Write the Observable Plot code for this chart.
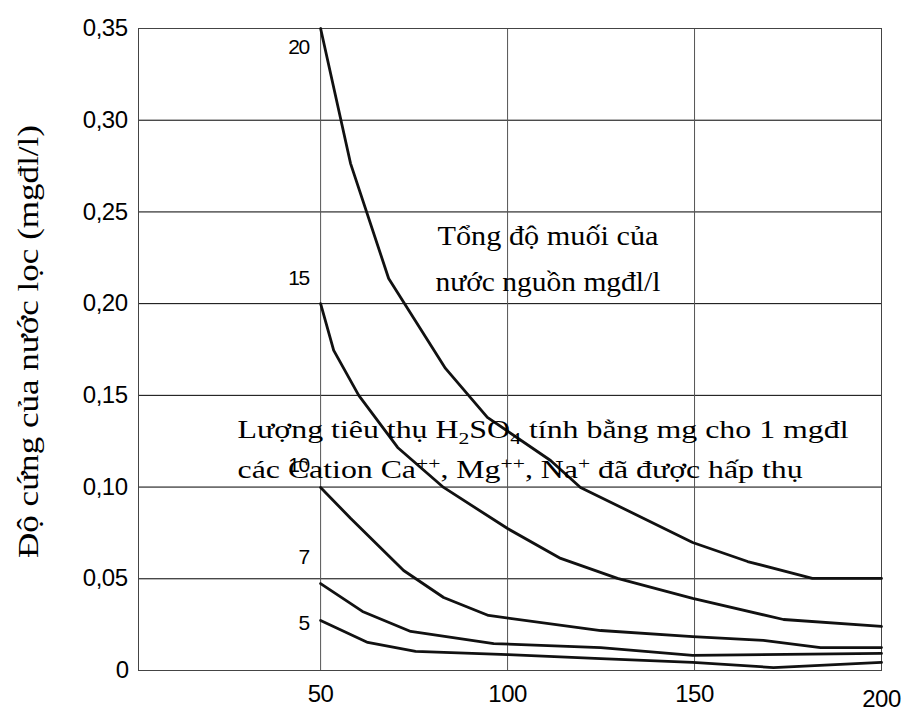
<!DOCTYPE html>
<html><head><meta charset="utf-8">
<script src="https://cdn.jsdelivr.net/npm/d3@7"></script>
<script src="https://cdn.jsdelivr.net/npm/@observablehq/plot@0.6"></script>
<style>
html,body{margin:0;padding:0;background:#fff;}
</style></head><body><div id="chart"></div>
<script>
// ---- data ----
const seriesNames = ["20", "15", "10", "7", "5"];
const x20 = [50, 58, 68.2, 83.4, 94.6, 111.5, 119.5, 149.5, 164.2, 181.5, 200];
const y20 = [0.35, 0.2765, 0.2137, 0.1647, 0.138, 0.1145, 0.0998, 0.0698, 0.0594, 0.0502, 0.0502];
const x15 = [50, 53.5, 60.2, 70.6, 82.9, 100, 114.2, 129.4, 149.5, 173.8, 200];
const y15 = [0.200, 0.1745, 0.150, 0.1216, 0.0998, 0.0774, 0.0611, 0.0502, 0.0393, 0.0278, 0.024];
const x10 = [50, 58, 72.2, 82.9, 94.9, 124.9, 149.5, 168.4, 183.7, 200];
const y10 = [0.0998, 0.083, 0.0545, 0.0398, 0.030, 0.0218, 0.0185, 0.0164, 0.0125, 0.0125];
const x7 = [50, 61.2, 74.1, 96.3, 124.9, 149.5, 200];
const y7 = [0.0474, 0.0322, 0.0213, 0.0147, 0.0125, 0.0082, 0.0093];
const x5 = [50, 62.6, 75.4, 100, 124.9, 149.5, 171.1, 200];
const y5 = [0.0273, 0.0153, 0.0104, 0.0087, 0.0065, 0.0044, 0.0016, 0.0044];
const labelY = [0.340, 0.2137, 0.1118, 0.0616, 0.0256];
const xTicks = [50, 100, 150, 200];
const yTicks = [0, 0.05, 0.10, 0.15, 0.20, 0.25, 0.30, 0.35];
const yTitle = "Độ cứng của nước lọc (mgđl/l)";
const note1 = ["Tổng độ muối của", "nước nguồn mgđl/l"];
const note2 = ["Lượng tiêu thụ H{_2}SO{_4} tính bằng mg cho 1 mgđl",
               "các Cation Ca{^++}, Mg{^++}, Na{^+} đã được hấp thụ"];

// ---- build table ----
const xs = [x20, x15, x10, x7, x5], ys = [y20, y15, y10, y7, y5];
const table = seriesNames.flatMap((s, i) => xs[i].map((x, j) => ({series: s, x, y: ys[i][j]})));
const labels = seriesNames.map((s, i) => ({series: s, x: xs[i][0], y: labelY[i]}));

const SANS = "'Liberation Sans', Arial, sans-serif";
const SERIF = "'Liberation Serif', 'Times New Roman', serif";
const fmt = d => d === 0 ? "0" : d.toFixed(2).replace(".", ",");

const chart = Plot.plot({
  width: 902, height: 716,
  marginLeft: 138, marginRight: 21, marginTop: 28, marginBottom: 46,
  x: {domain: [1.3, 200]},
  y: {domain: [0, 0.35]},
  style: {fontFamily: SANS, background: "#fff", color: "#000"},
  marks: [
    Plot.gridY(yTicks.filter(d => d > 0), {stroke: "#000", strokeOpacity: 1, strokeWidth: 1}),
    Plot.gridX(xTicks, {stroke: "#555", strokeOpacity: 1, strokeWidth: 1}),
    Plot.frame({stroke: "#444", strokeWidth: 1}),
    Plot.axisY(yTicks, {tickSize: 0, tickPadding: 11, tickFormat: fmt, fontSize: 24, label: null, fontFamily: SANS}),
    Plot.axisX(xTicks.slice(0, 3), {tickSize: 0, tickPadding: 14, fontSize: 24, label: null, fontFamily: SANS}),
    Plot.axisX(xTicks.slice(3), {tickSize: 0, tickPadding: 19, fontSize: 24, label: null, fontFamily: SANS}),
    Plot.line(table, {x: "x", y: "y", z: "series", stroke: "#111", strokeWidth: 2.8, strokeLinejoin: "round"}),
    Plot.text(labels, {x: "x", y: "y", text: "series", textAnchor: "end", dx: -12, fontSize: 21, fontFamily: SANS, fill: "#000"}),
    Plot.text([yTitle], {frameAnchor: "left", textAnchor: "middle", rotate: -90, dx: -110, dy: -8, fontSize: 30, fontFamily: SERIF, fill: "#000"}),
    Plot.text(note1, {x: [110.8, 110.8], y: [0.2317, 0.2067], text: d => d, textAnchor: "middle", lineAnchor: "bottom", fontSize: 27, fontFamily: SERIF, fill: "#000"}),
    Plot.text(note2, {x: [27.8, 27.8], y: [0.127, 0.1052], text: d => d, textAnchor: "start", lineAnchor: "bottom", fontSize: 25, fontFamily: SERIF, fill: "#000"})
  ]
});
document.getElementById("chart").appendChild(chart);

// tighter spacing for the sans texts
chart.querySelectorAll("text").forEach(t => {
  const ff = t.getAttribute("font-family") || (t.parentNode.getAttribute && t.parentNode.getAttribute("font-family")) || "";
  if (ff.includes("Liberation Sans")) t.setAttribute("letter-spacing", t.textContent.length <= 2 && !t.textContent.includes(",") && +t.textContent < 50 ? "-1.5" : "-0.5");
});

// rich text (sub/superscripts) and fitted widths
const NS = "http://www.w3.org/2000/svg";
function rich(t) {
  const s = t.textContent;
  if (!/\{[_^]/.test(s)) return;
  while (t.firstChild) t.removeChild(t.firstChild);
  const re = /\{([_^])([^}]*)\}/g;
  let last = 0, m, pend = 0;
  const add = (txt, dy, small) => {
    const ts = document.createElementNS(NS, "tspan");
    ts.textContent = txt;
    if (dy) ts.setAttribute("dy", dy);
    if (small) ts.setAttribute("font-size", "68%");
    t.appendChild(ts);
  };
  while ((m = re.exec(s))) {
    if (m.index > last) { add(s.slice(last, m.index), pend); pend = 0; }
    const sh = m[1] === "_" ? 6 : -9;
    add(m[2], pend + sh, true);
    pend = -sh;
    last = re.lastIndex;
  }
  if (last < s.length) add(s.slice(last), pend);
}
const widths = new Map([
  [yTitle, 433], [note1[0], 221], [note1[1], 225], [note2[0], 611], [note2[1], 565]
]);
chart.querySelectorAll("text").forEach(t => {
  const s = t.textContent;
  if (!widths.has(s)) return;
  const w = widths.get(s);
  rich(t);
  t.setAttribute("textLength", w);
  t.setAttribute("lengthAdjust", "spacingAndGlyphs");
});
</script></body></html>
